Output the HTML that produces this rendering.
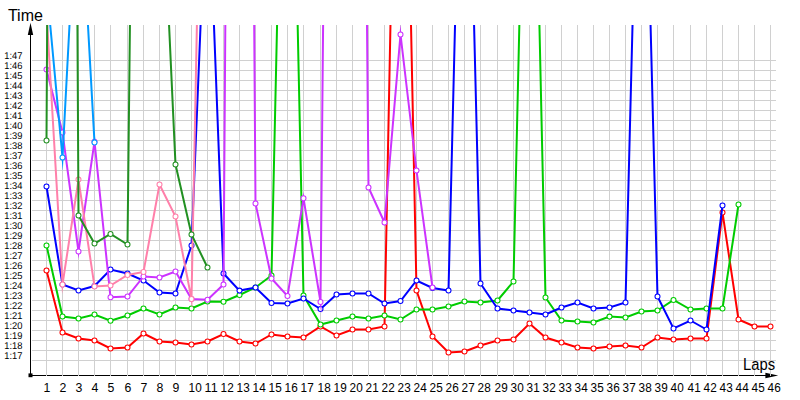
<!DOCTYPE html>
<html><head><meta charset="utf-8"><title>Lap times</title>
<style>
html,body{margin:0;padding:0;background:#fff;}
body{width:800px;height:400px;overflow:hidden;font-family:"Liberation Sans",sans-serif;}
svg{display:block;}
text{font-family:"Liberation Sans",sans-serif;fill:#000;}
.g{stroke:#D0D0D0;stroke-width:1;shape-rendering:crispEdges;}
.yl{font-size:9.8px;text-rendering:geometricPrecision;}
.xl{font-size:12.3px;}
.t{font-size:16px;}
.s{fill:none;stroke-width:2;stroke-linejoin:miter;stroke-miterlimit:14;stroke-linecap:butt;}
.m{fill:#fff;stroke-width:1.05;}
</style></head><body>
<svg width="800" height="400" viewBox="0 0 800 400">
<defs><clipPath id="c"><rect x="31" y="25" width="760" height="350"/></clipPath></defs>
<rect width="800" height="400" fill="#fff"/>

<g shape-rendering="crispEdges" stroke="#000" stroke-width="1"><line x1="30.5" x2="30.5" y1="30" y2="376"/><line x1="30" x2="770" y1="375.5" y2="375.5"/></g>
<rect x="28.5" y="373.4" width="4" height="3.8" fill="#000"/>
<path d="M30.5 22.8 L33.2 35 L27.8 35 Z" fill="#000"/>
<path d="M778.2 375.55 L765.4 378.3 L765.4 372.8 Z" fill="#000"/>
<g class="g">
<line x1="32" x2="776" y1="60.5" y2="60.5"/>
<line x1="32" x2="776" y1="70.5" y2="70.5"/>
<line x1="32" x2="776" y1="80.5" y2="80.5"/>
<line x1="32" x2="776" y1="90.5" y2="90.5"/>
<line x1="32" x2="776" y1="100.5" y2="100.5"/>
<line x1="32" x2="776" y1="110.5" y2="110.5"/>
<line x1="32" x2="776" y1="120.5" y2="120.5"/>
<line x1="32" x2="776" y1="130.5" y2="130.5"/>
<line x1="32" x2="776" y1="140.5" y2="140.5"/>
<line x1="32" x2="776" y1="150.5" y2="150.5"/>
<line x1="32" x2="776" y1="160.5" y2="160.5"/>
<line x1="32" x2="776" y1="170.5" y2="170.5"/>
<line x1="32" x2="776" y1="180.5" y2="180.5"/>
<line x1="32" x2="776" y1="190.5" y2="190.5"/>
<line x1="32" x2="776" y1="200.5" y2="200.5"/>
<line x1="32" x2="776" y1="210.5" y2="210.5"/>
<line x1="32" x2="776" y1="220.5" y2="220.5"/>
<line x1="32" x2="776" y1="230.5" y2="230.5"/>
<line x1="32" x2="776" y1="240.5" y2="240.5"/>
<line x1="32" x2="776" y1="250.5" y2="250.5"/>
<line x1="32" x2="776" y1="260.5" y2="260.5"/>
<line x1="32" x2="776" y1="270.5" y2="270.5"/>
<line x1="32" x2="776" y1="280.5" y2="280.5"/>
<line x1="32" x2="776" y1="290.5" y2="290.5"/>
<line x1="32" x2="776" y1="300.5" y2="300.5"/>
<line x1="32" x2="776" y1="310.5" y2="310.5"/>
<line x1="32" x2="776" y1="320.5" y2="320.5"/>
<line x1="32" x2="776" y1="330.5" y2="330.5"/>
<line x1="32" x2="776" y1="340.5" y2="340.5"/>
<line x1="32" x2="776" y1="350.5" y2="350.5"/>
<line x1="32" x2="776" y1="360.5" y2="360.5"/>
<line x1="46.5" x2="46.5" y1="25" y2="376"/>
<line x1="62.5" x2="62.5" y1="25" y2="376"/>
<line x1="78.5" x2="78.5" y1="25" y2="376"/>
<line x1="94.5" x2="94.5" y1="25" y2="376"/>
<line x1="110.5" x2="110.5" y1="25" y2="376"/>
<line x1="127.5" x2="127.5" y1="25" y2="376"/>
<line x1="143.5" x2="143.5" y1="25" y2="376"/>
<line x1="159.5" x2="159.5" y1="25" y2="376"/>
<line x1="175.5" x2="175.5" y1="25" y2="376"/>
<line x1="191.5" x2="191.5" y1="25" y2="376"/>
<line x1="207.5" x2="207.5" y1="25" y2="376"/>
<line x1="223.5" x2="223.5" y1="25" y2="376"/>
<line x1="239.5" x2="239.5" y1="25" y2="376"/>
<line x1="255.5" x2="255.5" y1="25" y2="376"/>
<line x1="271.5" x2="271.5" y1="25" y2="376"/>
<line x1="287.5" x2="287.5" y1="25" y2="376"/>
<line x1="303.5" x2="303.5" y1="25" y2="376"/>
<line x1="320.5" x2="320.5" y1="25" y2="376"/>
<line x1="336.5" x2="336.5" y1="25" y2="376"/>
<line x1="352.5" x2="352.5" y1="25" y2="376"/>
<line x1="368.5" x2="368.5" y1="25" y2="376"/>
<line x1="384.5" x2="384.5" y1="25" y2="376"/>
<line x1="400.5" x2="400.5" y1="25" y2="376"/>
<line x1="416.5" x2="416.5" y1="25" y2="376"/>
<line x1="432.5" x2="432.5" y1="25" y2="376"/>
<line x1="448.5" x2="448.5" y1="25" y2="376"/>
<line x1="464.5" x2="464.5" y1="25" y2="376"/>
<line x1="480.5" x2="480.5" y1="25" y2="376"/>
<line x1="497.5" x2="497.5" y1="25" y2="376"/>
<line x1="513.5" x2="513.5" y1="25" y2="376"/>
<line x1="529.5" x2="529.5" y1="25" y2="376"/>
<line x1="545.5" x2="545.5" y1="25" y2="376"/>
<line x1="561.5" x2="561.5" y1="25" y2="376"/>
<line x1="577.5" x2="577.5" y1="25" y2="376"/>
<line x1="593.5" x2="593.5" y1="25" y2="376"/>
<line x1="609.5" x2="609.5" y1="25" y2="376"/>
<line x1="625.5" x2="625.5" y1="25" y2="376"/>
<line x1="641.5" x2="641.5" y1="25" y2="376"/>
<line x1="657.5" x2="657.5" y1="25" y2="376"/>
<line x1="673.5" x2="673.5" y1="25" y2="376"/>
<line x1="690.5" x2="690.5" y1="25" y2="376"/>
<line x1="706.5" x2="706.5" y1="25" y2="376"/>
<line x1="722.5" x2="722.5" y1="25" y2="376"/>
<line x1="738.5" x2="738.5" y1="25" y2="376"/>
<line x1="754.5" x2="754.5" y1="25" y2="376"/>
<line x1="770.5" x2="770.5" y1="25" y2="376"/>
</g>
<g clip-path="url(#c)">
<polyline class="s" stroke="#FF0000" points="46.5,270.5 62.5,332.5 78.5,338.5 94.5,340.5 110.5,348.5 127.5,347.5 143.5,333.5 159.5,341.5 175.5,342.5 191.5,344.5 207.5,341.5 223.5,334 239.5,341.5 255.5,343.5 271.5,334.5 287.5,336.5 303.5,337.5 320.5,326.5 336.5,335.5 352.5,329.5 368.5,329.5 384.5,326.5 400.5,-483 416.5,290.5 432.5,336.5 448.5,352.5 464.5,351.5 480.5,345.5 497.5,340.5 513.5,339.5 529.5,323.5 545.5,337.5 561.5,342.5 577.5,347.5 593.5,348.5 609.5,346.5 625.5,345.5 641.5,347.5 657.5,337.5 673.5,339.5 690.5,338.5 706.5,338.5 722.5,212.5 738.5,319.5 754.5,326.5 770.5,326.5"/>
<g class="m" stroke="#FF0000">
<circle cx="46.5" cy="270.5" r="2.5"/>
<circle cx="62.5" cy="332.5" r="2.5"/>
<circle cx="78.5" cy="338.5" r="2.5"/>
<circle cx="94.5" cy="340.5" r="2.5"/>
<circle cx="110.5" cy="348.5" r="2.5"/>
<circle cx="127.5" cy="347.5" r="2.5"/>
<circle cx="143.5" cy="333.5" r="2.5"/>
<circle cx="159.5" cy="341.5" r="2.5"/>
<circle cx="175.5" cy="342.5" r="2.5"/>
<circle cx="191.5" cy="344.5" r="2.5"/>
<circle cx="207.5" cy="341.5" r="2.5"/>
<circle cx="223.5" cy="334" r="2.5"/>
<circle cx="239.5" cy="341.5" r="2.5"/>
<circle cx="255.5" cy="343.5" r="2.5"/>
<circle cx="271.5" cy="334.5" r="2.5"/>
<circle cx="287.5" cy="336.5" r="2.5"/>
<circle cx="303.5" cy="337.5" r="2.5"/>
<circle cx="320.5" cy="326.5" r="2.5"/>
<circle cx="336.5" cy="335.5" r="2.5"/>
<circle cx="352.5" cy="329.5" r="2.5"/>
<circle cx="368.5" cy="329.5" r="2.5"/>
<circle cx="384.5" cy="326.5" r="2.5"/>
<circle cx="416.5" cy="290.5" r="2.5"/>
<circle cx="432.5" cy="336.5" r="2.5"/>
<circle cx="448.5" cy="352.5" r="2.5"/>
<circle cx="464.5" cy="351.5" r="2.5"/>
<circle cx="480.5" cy="345.5" r="2.5"/>
<circle cx="497.5" cy="340.5" r="2.5"/>
<circle cx="513.5" cy="339.5" r="2.5"/>
<circle cx="529.5" cy="323.5" r="2.5"/>
<circle cx="545.5" cy="337.5" r="2.5"/>
<circle cx="561.5" cy="342.5" r="2.5"/>
<circle cx="577.5" cy="347.5" r="2.5"/>
<circle cx="593.5" cy="348.5" r="2.5"/>
<circle cx="609.5" cy="346.5" r="2.5"/>
<circle cx="625.5" cy="345.5" r="2.5"/>
<circle cx="641.5" cy="347.5" r="2.5"/>
<circle cx="657.5" cy="337.5" r="2.5"/>
<circle cx="673.5" cy="339.5" r="2.5"/>
<circle cx="690.5" cy="338.5" r="2.5"/>
<circle cx="706.5" cy="338.5" r="2.5"/>
<circle cx="722.5" cy="212.5" r="2.5"/>
<circle cx="738.5" cy="319.5" r="2.5"/>
<circle cx="754.5" cy="326.5" r="2.5"/>
<circle cx="770.5" cy="326.5" r="2.5"/>
</g>
<polyline class="s" stroke="#00CC00" points="46.5,245.5 62.5,316.5 78.5,318.5 94.5,314.5 110.5,320.8 127.5,315.5 143.5,308.5 159.5,314.5 175.5,307.5 191.5,308.5 207.5,301.5 223.5,301.7 239.5,295 255.5,287.5 271.5,275.5 287.5,-445 303.5,295.5 320.5,324.5 336.5,320.5 352.5,316.5 368.5,318.5 384.5,315.5 400.5,319.5 416.5,309.5 432.5,309.5 448.5,306.5 464.5,301.5 480.5,302.5 497.5,300.5 513.5,281.5 529.5,-420 545.5,297.5 561.5,320.5 577.5,321.5 593.5,322.5 609.5,316.6 625.5,317.5 641.5,311.5 657.5,310.5 673.5,300 690.5,309.5 706.5,308.5 722.5,308.5 738.5,204.5"/>
<g class="m" stroke="#00CC00">
<circle cx="46.5" cy="245.5" r="2.5"/>
<circle cx="62.5" cy="316.5" r="2.5"/>
<circle cx="78.5" cy="318.5" r="2.5"/>
<circle cx="94.5" cy="314.5" r="2.5"/>
<circle cx="110.5" cy="320.8" r="2.5"/>
<circle cx="127.5" cy="315.5" r="2.5"/>
<circle cx="143.5" cy="308.5" r="2.5"/>
<circle cx="159.5" cy="314.5" r="2.5"/>
<circle cx="175.5" cy="307.5" r="2.5"/>
<circle cx="191.5" cy="308.5" r="2.5"/>
<circle cx="207.5" cy="301.5" r="2.5"/>
<circle cx="223.5" cy="301.7" r="2.5"/>
<circle cx="239.5" cy="295" r="2.5"/>
<circle cx="255.5" cy="287.5" r="2.5"/>
<circle cx="271.5" cy="275.5" r="2.5"/>
<circle cx="303.5" cy="295.5" r="2.5"/>
<circle cx="320.5" cy="324.5" r="2.5"/>
<circle cx="336.5" cy="320.5" r="2.5"/>
<circle cx="352.5" cy="316.5" r="2.5"/>
<circle cx="368.5" cy="318.5" r="2.5"/>
<circle cx="384.5" cy="315.5" r="2.5"/>
<circle cx="400.5" cy="319.5" r="2.5"/>
<circle cx="416.5" cy="309.5" r="2.5"/>
<circle cx="432.5" cy="309.5" r="2.5"/>
<circle cx="448.5" cy="306.5" r="2.5"/>
<circle cx="464.5" cy="301.5" r="2.5"/>
<circle cx="480.5" cy="302.5" r="2.5"/>
<circle cx="497.5" cy="300.5" r="2.5"/>
<circle cx="513.5" cy="281.5" r="2.5"/>
<circle cx="545.5" cy="297.5" r="2.5"/>
<circle cx="561.5" cy="320.5" r="2.5"/>
<circle cx="577.5" cy="321.5" r="2.5"/>
<circle cx="593.5" cy="322.5" r="2.5"/>
<circle cx="609.5" cy="316.6" r="2.5"/>
<circle cx="625.5" cy="317.5" r="2.5"/>
<circle cx="641.5" cy="311.5" r="2.5"/>
<circle cx="657.5" cy="310.5" r="2.5"/>
<circle cx="673.5" cy="300" r="2.5"/>
<circle cx="690.5" cy="309.5" r="2.5"/>
<circle cx="706.5" cy="308.5" r="2.5"/>
<circle cx="722.5" cy="308.5" r="2.5"/>
<circle cx="738.5" cy="204.5" r="2.5"/>
</g>
<polyline class="s" stroke="#0000FF" points="46.5,186.5 62.5,284.5 78.5,290.5 94.5,286 110.5,269.5 127.5,273.5 143.5,280.5 159.5,292.5 175.5,293.5 191.5,245.5 207.5,-143 223.5,273.5 239.5,290.6 255.5,287.5 271.5,303 287.5,303.5 303.5,298.5 320.5,309 336.5,294.5 352.5,293.5 368.5,293.5 384.5,303.5 400.5,301 416.5,280.5 432.5,288 448.5,290.5 464.5,-360 480.5,283.5 497.5,308.5 513.5,310.5 529.5,312.5 545.5,314.5 561.5,307.5 577.5,302.5 593.5,308.5 609.5,307.5 625.5,302.5 641.5,-330 657.5,296.5 673.5,328.5 690.5,320.5 706.5,329.5 722.5,205.5"/>
<g class="m" stroke="#0000FF">
<circle cx="46.5" cy="186.5" r="2.5"/>
<circle cx="62.5" cy="284.5" r="2.5"/>
<circle cx="78.5" cy="290.5" r="2.5"/>
<circle cx="94.5" cy="286" r="2.5"/>
<circle cx="110.5" cy="269.5" r="2.5"/>
<circle cx="127.5" cy="273.5" r="2.5"/>
<circle cx="143.5" cy="280.5" r="2.5"/>
<circle cx="159.5" cy="292.5" r="2.5"/>
<circle cx="175.5" cy="293.5" r="2.5"/>
<circle cx="191.5" cy="245.5" r="2.5"/>
<circle cx="223.5" cy="273.5" r="2.5"/>
<circle cx="239.5" cy="290.6" r="2.5"/>
<circle cx="255.5" cy="287.5" r="2.5"/>
<circle cx="271.5" cy="303" r="2.5"/>
<circle cx="287.5" cy="303.5" r="2.5"/>
<circle cx="303.5" cy="298.5" r="2.5"/>
<circle cx="320.5" cy="309" r="2.5"/>
<circle cx="336.5" cy="294.5" r="2.5"/>
<circle cx="352.5" cy="293.5" r="2.5"/>
<circle cx="368.5" cy="293.5" r="2.5"/>
<circle cx="384.5" cy="303.5" r="2.5"/>
<circle cx="400.5" cy="301" r="2.5"/>
<circle cx="416.5" cy="280.5" r="2.5"/>
<circle cx="432.5" cy="288" r="2.5"/>
<circle cx="448.5" cy="290.5" r="2.5"/>
<circle cx="480.5" cy="283.5" r="2.5"/>
<circle cx="497.5" cy="308.5" r="2.5"/>
<circle cx="513.5" cy="310.5" r="2.5"/>
<circle cx="529.5" cy="312.5" r="2.5"/>
<circle cx="545.5" cy="314.5" r="2.5"/>
<circle cx="561.5" cy="307.5" r="2.5"/>
<circle cx="577.5" cy="302.5" r="2.5"/>
<circle cx="593.5" cy="308.5" r="2.5"/>
<circle cx="609.5" cy="307.5" r="2.5"/>
<circle cx="625.5" cy="302.5" r="2.5"/>
<circle cx="657.5" cy="296.5" r="2.5"/>
<circle cx="673.5" cy="328.5" r="2.5"/>
<circle cx="690.5" cy="320.5" r="2.5"/>
<circle cx="706.5" cy="329.5" r="2.5"/>
<circle cx="722.5" cy="205.5" r="2.5"/>
</g>
<polyline class="s" stroke="#CC33FF" points="46.5,69.5 62.5,132.5 78.5,251.5 94.5,141.7 110.5,297.3 127.5,296.5 143.5,276.5 159.5,277.5 175.5,271.5 191.5,299 207.5,299.8 223.5,284.5 239.5,-2000 255.5,203.5 271.5,278.5 287.5,296 303.5,198.3 320.5,302 336.5,-1400 352.5,-1550 368.5,187.5 384.5,222.5 400.5,34.5 416.5,170.5 432.5,287.5"/>
<g class="m" stroke="#CC33FF">
<circle cx="46.5" cy="69.5" r="2.5"/>
<circle cx="62.5" cy="132.5" r="2.5"/>
<circle cx="78.5" cy="251.5" r="2.5"/>
<circle cx="94.5" cy="141.7" r="2.5"/>
<circle cx="110.5" cy="297.3" r="2.5"/>
<circle cx="127.5" cy="296.5" r="2.5"/>
<circle cx="143.5" cy="276.5" r="2.5"/>
<circle cx="159.5" cy="277.5" r="2.5"/>
<circle cx="175.5" cy="271.5" r="2.5"/>
<circle cx="191.5" cy="299" r="2.5"/>
<circle cx="207.5" cy="299.8" r="2.5"/>
<circle cx="223.5" cy="284.5" r="2.5"/>
<circle cx="255.5" cy="203.5" r="2.5"/>
<circle cx="271.5" cy="278.5" r="2.5"/>
<circle cx="287.5" cy="296" r="2.5"/>
<circle cx="303.5" cy="198.3" r="2.5"/>
<circle cx="320.5" cy="302" r="2.5"/>
<circle cx="368.5" cy="187.5" r="2.5"/>
<circle cx="384.5" cy="222.5" r="2.5"/>
<circle cx="400.5" cy="34.5" r="2.5"/>
<circle cx="416.5" cy="170.5" r="2.5"/>
<circle cx="432.5" cy="287.5" r="2.5"/>
</g>
<polyline class="s" stroke="#FF80AA" points="46.5,12 62.5,284.5 78.5,179.5 94.5,286.5 110.5,285.5 127.5,275 143.5,272 159.5,184.5 175.5,216.5 191.5,299 207.5,-513"/>
<g class="m" stroke="#FF80AA">
<circle cx="46.5" cy="12" r="2.5"/>
<circle cx="62.5" cy="284.5" r="2.5"/>
<circle cx="78.5" cy="179.5" r="2.5"/>
<circle cx="94.5" cy="286.5" r="2.5"/>
<circle cx="110.5" cy="285.5" r="2.5"/>
<circle cx="127.5" cy="275" r="2.5"/>
<circle cx="143.5" cy="272" r="2.5"/>
<circle cx="159.5" cy="184.5" r="2.5"/>
<circle cx="175.5" cy="216.5" r="2.5"/>
<circle cx="191.5" cy="299" r="2.5"/>
</g>
<polyline class="s" stroke="#229022" points="46.5,140.5 62.5,-2640 78.5,215.5 94.5,243.5 110.5,234 127.5,244.5 143.5,-1200 159.5,-182 175.5,164.5 191.5,234.5 207.5,267.5"/>
<g class="m" stroke="#229022">
<circle cx="46.5" cy="140.5" r="2.5"/>
<circle cx="78.5" cy="215.5" r="2.5"/>
<circle cx="94.5" cy="243.5" r="2.5"/>
<circle cx="110.5" cy="234" r="2.5"/>
<circle cx="127.5" cy="244.5" r="2.5"/>
<circle cx="175.5" cy="164.5" r="2.5"/>
<circle cx="191.5" cy="234.5" r="2.5"/>
<circle cx="207.5" cy="267.5" r="2.5"/>
</g>
<polyline class="s" stroke="#0099FF" points="46.5,-15 62.5,157.5 78.5,-145 94.5,142.5"/>
<g class="m" stroke="#0099FF">
<circle cx="62.5" cy="157.5" r="2.5"/>
<circle cx="94.5" cy="142.5" r="2.5"/>
</g>
</g>
<text class="t" x="7.9" y="21" textLength="35" lengthAdjust="spacingAndGlyphs">Time</text>
<text class="t" x="743.1" y="370" textLength="32" lengthAdjust="spacingAndGlyphs">Laps</text>
<text class="yl" x="4.3" y="59" textLength="18.2" lengthAdjust="spacingAndGlyphs">1:47</text>
<text class="yl" x="4.3" y="69" textLength="18.2" lengthAdjust="spacingAndGlyphs">1:46</text>
<text class="yl" x="4.3" y="79" textLength="18.2" lengthAdjust="spacingAndGlyphs">1:45</text>
<text class="yl" x="4.3" y="89" textLength="18.2" lengthAdjust="spacingAndGlyphs">1:44</text>
<text class="yl" x="4.3" y="99" textLength="18.2" lengthAdjust="spacingAndGlyphs">1:43</text>
<text class="yl" x="4.3" y="109" textLength="18.2" lengthAdjust="spacingAndGlyphs">1:42</text>
<text class="yl" x="4.3" y="119" textLength="18.2" lengthAdjust="spacingAndGlyphs">1:41</text>
<text class="yl" x="4.3" y="129" textLength="18.2" lengthAdjust="spacingAndGlyphs">1:40</text>
<text class="yl" x="4.3" y="139" textLength="18.2" lengthAdjust="spacingAndGlyphs">1:39</text>
<text class="yl" x="4.3" y="149" textLength="18.2" lengthAdjust="spacingAndGlyphs">1:38</text>
<text class="yl" x="4.3" y="159" textLength="18.2" lengthAdjust="spacingAndGlyphs">1:37</text>
<text class="yl" x="4.3" y="169" textLength="18.2" lengthAdjust="spacingAndGlyphs">1:36</text>
<text class="yl" x="4.3" y="179" textLength="18.2" lengthAdjust="spacingAndGlyphs">1:35</text>
<text class="yl" x="4.3" y="189" textLength="18.2" lengthAdjust="spacingAndGlyphs">1:34</text>
<text class="yl" x="4.3" y="199" textLength="18.2" lengthAdjust="spacingAndGlyphs">1:33</text>
<text class="yl" x="4.3" y="209" textLength="18.2" lengthAdjust="spacingAndGlyphs">1:32</text>
<text class="yl" x="4.3" y="219" textLength="18.2" lengthAdjust="spacingAndGlyphs">1:31</text>
<text class="yl" x="4.3" y="229" textLength="18.2" lengthAdjust="spacingAndGlyphs">1:30</text>
<text class="yl" x="4.3" y="239" textLength="18.2" lengthAdjust="spacingAndGlyphs">1:29</text>
<text class="yl" x="4.3" y="249" textLength="18.2" lengthAdjust="spacingAndGlyphs">1:28</text>
<text class="yl" x="4.3" y="259" textLength="18.2" lengthAdjust="spacingAndGlyphs">1:27</text>
<text class="yl" x="4.3" y="269" textLength="18.2" lengthAdjust="spacingAndGlyphs">1:26</text>
<text class="yl" x="4.3" y="279" textLength="18.2" lengthAdjust="spacingAndGlyphs">1:25</text>
<text class="yl" x="4.3" y="289" textLength="18.2" lengthAdjust="spacingAndGlyphs">1:24</text>
<text class="yl" x="4.3" y="299" textLength="18.2" lengthAdjust="spacingAndGlyphs">1:23</text>
<text class="yl" x="4.3" y="309" textLength="18.2" lengthAdjust="spacingAndGlyphs">1:22</text>
<text class="yl" x="4.3" y="319" textLength="18.2" lengthAdjust="spacingAndGlyphs">1:21</text>
<text class="yl" x="4.3" y="329" textLength="18.2" lengthAdjust="spacingAndGlyphs">1:20</text>
<text class="yl" x="4.3" y="339" textLength="18.2" lengthAdjust="spacingAndGlyphs">1:19</text>
<text class="yl" x="4.3" y="349" textLength="18.2" lengthAdjust="spacingAndGlyphs">1:18</text>
<text class="yl" x="4.3" y="359" textLength="18.2" lengthAdjust="spacingAndGlyphs">1:17</text>
<text class="xl" x="43.6" y="392">1</text>
<text class="xl" x="59.6" y="392">2</text>
<text class="xl" x="75.6" y="392">3</text>
<text class="xl" x="91.6" y="392">4</text>
<text class="xl" x="107.6" y="392">5</text>
<text class="xl" x="124.6" y="392">6</text>
<text class="xl" x="140.6" y="392">7</text>
<text class="xl" x="156.6" y="392">8</text>
<text class="xl" x="172.6" y="392">9</text>
<text class="xl" x="188.6" y="392" textLength="13.1" lengthAdjust="spacingAndGlyphs">10</text>
<text class="xl" x="204.6" y="392" textLength="13.1" lengthAdjust="spacingAndGlyphs">11</text>
<text class="xl" x="220.6" y="392" textLength="13.1" lengthAdjust="spacingAndGlyphs">12</text>
<text class="xl" x="236.6" y="392" textLength="13.1" lengthAdjust="spacingAndGlyphs">13</text>
<text class="xl" x="252.6" y="392" textLength="13.1" lengthAdjust="spacingAndGlyphs">14</text>
<text class="xl" x="268.6" y="392" textLength="13.1" lengthAdjust="spacingAndGlyphs">15</text>
<text class="xl" x="284.6" y="392" textLength="13.1" lengthAdjust="spacingAndGlyphs">16</text>
<text class="xl" x="300.6" y="392" textLength="13.1" lengthAdjust="spacingAndGlyphs">17</text>
<text class="xl" x="317.6" y="392" textLength="13.1" lengthAdjust="spacingAndGlyphs">18</text>
<text class="xl" x="333.6" y="392" textLength="13.1" lengthAdjust="spacingAndGlyphs">19</text>
<text class="xl" x="349.6" y="392" textLength="13.1" lengthAdjust="spacingAndGlyphs">20</text>
<text class="xl" x="365.6" y="392" textLength="13.1" lengthAdjust="spacingAndGlyphs">21</text>
<text class="xl" x="381.6" y="392" textLength="13.1" lengthAdjust="spacingAndGlyphs">22</text>
<text class="xl" x="397.6" y="392" textLength="13.1" lengthAdjust="spacingAndGlyphs">23</text>
<text class="xl" x="413.6" y="392" textLength="13.1" lengthAdjust="spacingAndGlyphs">24</text>
<text class="xl" x="429.6" y="392" textLength="13.1" lengthAdjust="spacingAndGlyphs">25</text>
<text class="xl" x="445.6" y="392" textLength="13.1" lengthAdjust="spacingAndGlyphs">26</text>
<text class="xl" x="461.6" y="392" textLength="13.1" lengthAdjust="spacingAndGlyphs">27</text>
<text class="xl" x="477.6" y="392" textLength="13.1" lengthAdjust="spacingAndGlyphs">28</text>
<text class="xl" x="494.6" y="392" textLength="13.1" lengthAdjust="spacingAndGlyphs">29</text>
<text class="xl" x="510.6" y="392" textLength="13.1" lengthAdjust="spacingAndGlyphs">30</text>
<text class="xl" x="526.6" y="392" textLength="13.1" lengthAdjust="spacingAndGlyphs">31</text>
<text class="xl" x="542.6" y="392" textLength="13.1" lengthAdjust="spacingAndGlyphs">32</text>
<text class="xl" x="558.6" y="392" textLength="13.1" lengthAdjust="spacingAndGlyphs">33</text>
<text class="xl" x="574.6" y="392" textLength="13.1" lengthAdjust="spacingAndGlyphs">34</text>
<text class="xl" x="590.6" y="392" textLength="13.1" lengthAdjust="spacingAndGlyphs">35</text>
<text class="xl" x="606.6" y="392" textLength="13.1" lengthAdjust="spacingAndGlyphs">36</text>
<text class="xl" x="622.6" y="392" textLength="13.1" lengthAdjust="spacingAndGlyphs">37</text>
<text class="xl" x="638.6" y="392" textLength="13.1" lengthAdjust="spacingAndGlyphs">38</text>
<text class="xl" x="654.6" y="392" textLength="13.1" lengthAdjust="spacingAndGlyphs">39</text>
<text class="xl" x="670.6" y="392" textLength="13.1" lengthAdjust="spacingAndGlyphs">40</text>
<text class="xl" x="687.6" y="392" textLength="13.1" lengthAdjust="spacingAndGlyphs">41</text>
<text class="xl" x="703.6" y="392" textLength="13.1" lengthAdjust="spacingAndGlyphs">42</text>
<text class="xl" x="719.6" y="392" textLength="13.1" lengthAdjust="spacingAndGlyphs">43</text>
<text class="xl" x="735.6" y="392" textLength="13.1" lengthAdjust="spacingAndGlyphs">44</text>
<text class="xl" x="751.6" y="392" textLength="13.1" lengthAdjust="spacingAndGlyphs">45</text>
<text class="xl" x="767.6" y="392" textLength="13.1" lengthAdjust="spacingAndGlyphs">46</text>
</svg></body></html>
